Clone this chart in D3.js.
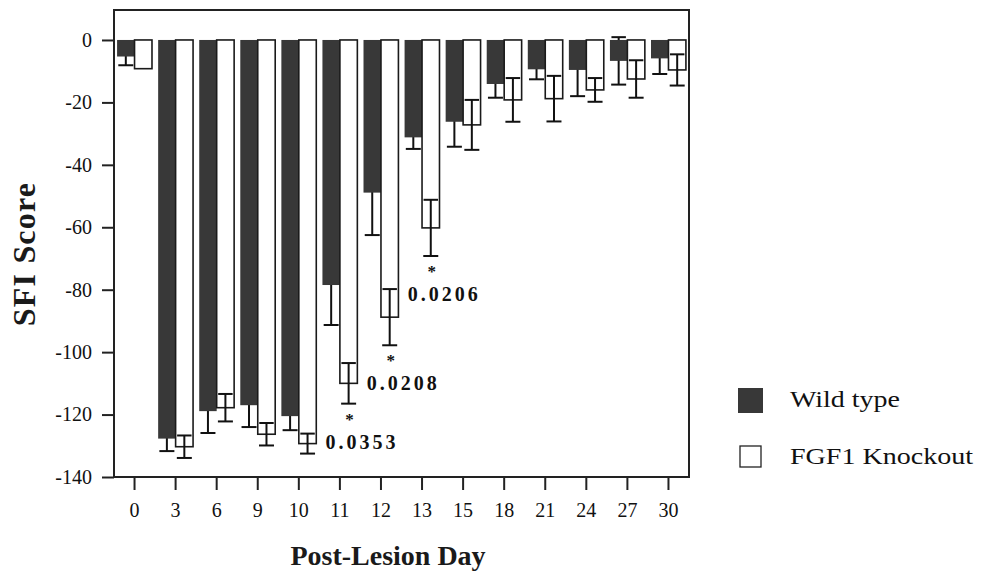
<!DOCTYPE html>
<html>
<head>
<meta charset="utf-8">
<script src="https://cdn.jsdelivr.net/npm/d3@7"></script>
<style>
    body { margin: 0; background: #fff; }
    svg { display: block; font-family: "Liberation Serif", "Times New Roman", serif; }
</style>
</head>
<body>
<svg id="drawing_region"></svg>
<script>
// values
const days = ['0', '3', '6', '9', '10', '11', '12', '13', '15', '18', '21', '24', '27', '30'];
const wildType    = [-5.3, -127.7, -118.9, -117.0, -120.5, -78.5, -48.9, -31.2, -26.2, -14.1, -9.4, -9.6, -6.7, -5.9];
const wildTypeErr = [2.8, 4.0, 7.0, 7.0, 4.5, 12.8, 13.6, 3.7, 8.0, 4.4, 3.2, 8.4, 7.6, 5.0];
const knockout    = [-9.2, -130.3, -117.8, -126.3, -129.3, -110.0, -88.8, -60.2, -27.2, -19.2, -18.8, -16.0, -12.5, -9.6];
const knockoutErr = [0, 3.6, 4.4, 3.6, 3.2, 6.5, 9.0, 9.0, 8.0, 7.0, 7.3, 3.8, 6.0, 5.0];
const yTicks = [0, -20, -40, -60, -80, -100, -120, -140];
const seriesNames = ['Wild type', 'FGF1 Knockout'];
const sigDays = ['11', '12', '13'];
const sigPValues = ['0.0353', '0.0208', '0.0206'];

class GroupedBarChart {

    constructor( config, data ) {
        this.config = {
            parent: config.parent,
            width: config.width || 981,
            height: config.height || 576,
            frame: config.frame || {left:114, right:689, top:10, bottom:477},
            ymin: config.ymin || -140,
            ymax: config.ymax || 9.6,
            colors: config.colors || ['#383838', '#ffffff'],
            xlabel: config.xlabel || '',
            ylabel: config.ylabel || ''
        };
        this.data = data;
        this.init();
    }

    init() {
        let self = this;
        const f = self.config.frame;

        self.svg = d3.select( self.config.parent )
            .attr('width', self.config.width)
            .attr('height', self.config.height);

        self.xscale = d3.scaleBand()
            .domain( days )
            .range( [f.left, f.right] )
            .paddingInner(0.15)
            .paddingOuter(0.075);

        self.x1scale = d3.scaleBand()
            .domain( [0, 1] )
            .range( [0, self.xscale.bandwidth()] );

        self.yscale = d3.scaleLinear()
            .domain( [self.config.ymin, self.config.ymax] )
            .range( [f.bottom, f.top] );

        self.xaxis = d3.axisBottom( self.xscale )
            .tickSize(13)
            .tickPadding(13);

        self.yaxis = d3.axisLeft( self.yscale )
            .tickValues( yTicks )
            .tickFormat( d => String(d) )
            .tickSize(12)
            .tickPadding(10);

        // wild type whiskers sit behind the dark bars, knockout ones in front
        self.err_back = self.svg.append('g');
        self.bar_group = self.svg.append('g');
        self.err_front = self.svg.append('g');

        self.xaxis_group = self.svg.append('g')
            .attr('transform', `translate(0, ${f.bottom})`);
        self.yaxis_group = self.svg.append('g')
            .attr('transform', `translate(${f.left}, 0)`);

        // axis titles
        self.svg.append('text')
            .style('font-size', '28px')
            .style('font-weight', 'bold')
            .attr('text-anchor', 'middle')
            .attr('x', 388)
            .attr('y', 565)
            .attr('fill', '#1a1a1a')
            .text( self.config.xlabel );

        self.svg.append('text')
            .style('font-size', '32px')
            .style('font-weight', 'bold')
            .style('letter-spacing', '1.2px')
            .attr('text-anchor', 'middle')
            .attr('transform', 'translate(35, 254) rotate(-90)')
            .attr('fill', '#1a1a1a')
            .text( self.config.ylabel );
    }

    drawErrors( group, rows ) {
        let self = this;
        const bw = self.x1scale.bandwidth();
        const cx = d => self.xscale(d.day) + self.x1scale(d.series) + bw / 2;

        const eg = group.selectAll('g')
            .data( rows )
            .join('g')
            .attr('stroke', '#111')
            .attr('stroke-width', 2);

        eg.append('line')
            .attr('x1', cx).attr('x2', cx)
            .attr('y1', d => self.yscale(d.value + d.err))
            .attr('y2', d => self.yscale(d.value - d.err));

        eg.append('line')
            .attr('x1', d => cx(d) - bw / 2 + 1.5)
            .attr('x2', d => cx(d) + bw / 2 - 1.5)
            .attr('y1', d => self.yscale(d.value + d.err))
            .attr('y2', d => self.yscale(d.value + d.err));

        eg.append('line')
            .attr('x1', d => cx(d) - 7.5)
            .attr('x2', d => cx(d) + 7.5)
            .attr('y1', d => self.yscale(d.value - d.err))
            .attr('y2', d => self.yscale(d.value - d.err));
    }

    render() {
        let self = this;
        const f = self.config.frame;
        const bw = self.x1scale.bandwidth();
        const cx = d => self.xscale(d.day) + self.x1scale(d.series) + bw / 2;

        self.drawErrors( self.err_back, self.data.filter(d => d.series === 0 && d.err > 0) );

        self.bar_group.selectAll('rect')
            .data( self.data )
            .join('rect')
            .attr('x', d => self.xscale(d.day) + self.x1scale(d.series))
            .attr('y', self.yscale(0))
            .attr('width', bw)
            .attr('height', d => self.yscale(d.value) - self.yscale(0))
            .attr('fill', d => self.config.colors[d.series])
            .attr('stroke', d => d.series === 1 ? '#1a1a1a' : 'none')
            .attr('stroke-width', 1.6);

        self.drawErrors( self.err_front, self.data.filter(d => d.series === 1 && d.err > 0) );

        // significance marks under the knockout bars
        const sig = self.data.filter(d => d.series === 1 && sigDays.includes(d.day));
        const sg = self.svg.append('g').attr('fill', '#111');
        sg.selectAll('.star')
            .data( sig )
            .join('text')
            .attr('class', 'star')
            .style('font-size', '17px')
            .style('font-weight', 'bold')
            .attr('text-anchor', 'middle')
            .attr('x', d => cx(d) + 1)
            .attr('y', d => self.yscale(d.value - d.err) + 21)
            .text('*');
        sg.selectAll('.pval')
            .data( sig )
            .join('text')
            .attr('class', 'pval')
            .style('font-size', '20px')
            .style('font-weight', 'bold')
            .style('letter-spacing', '3px')
            .attr('x', d => cx(d) - 23)
            .attr('y', d => self.yscale(d.value - d.err) + 45)
            .text(d => sigPValues[sigDays.indexOf(d.day)]);

        self.xaxis_group.call( self.xaxis );
        self.yaxis_group.call( self.yaxis );
        [self.xaxis_group, self.yaxis_group].forEach(g => {
            g.select('.domain').remove();
            g.selectAll('.tick line').attr('stroke', '#222').attr('stroke-width', 2);
            g.selectAll('.tick text')
                .attr('fill', '#111')
                .style('font-size', '20px')
                .style('font-family', '"Liberation Serif", serif');
        });

        // plot frame
        self.svg.append('rect')
            .attr('x', f.left)
            .attr('y', f.top)
            .attr('width', f.right - f.left)
            .attr('height', f.bottom - f.top)
            .attr('fill', 'none')
            .attr('stroke', '#222')
            .attr('stroke-width', 2);

        // legend
        const legend = self.svg.append('g');
        const items = [
            {name: seriesNames[0], x: 738, y: 388, s: 25, len: 110, ty: 407},
            {name: seriesNames[1], x: 740, y: 446, s: 21, len: 183, ty: 464}
        ];
        legend.selectAll('rect')
            .data( items )
            .join('rect')
            .attr('x', d => d.x).attr('y', d => d.y)
            .attr('width', d => d.s).attr('height', d => d.s)
            .attr('fill', (d, i) => self.config.colors[i])
            .attr('stroke', (d, i) => i === 1 ? '#222' : 'none')
            .attr('stroke-width', 1.3);
        legend.selectAll('text')
            .data( items )
            .join('text')
            .style('font-size', '24px')
            .attr('x', 790)
            .attr('y', d => d.ty)
            .attr('textLength', d => d.len)
            .attr('lengthAdjust', 'spacingAndGlyphs')
            .attr('fill', '#111')
            .text(d => d.name);
    }
}

const data = [];
days.forEach((day, i) => {
    data.push({day: day, series: 0, value: wildType[i], err: wildTypeErr[i]});
    data.push({day: day, series: 1, value: knockout[i], err: knockoutErr[i]});
});

const chart = new GroupedBarChart({
    parent: '#drawing_region',
    xlabel: 'Post-Lesion Day',
    ylabel: 'SFI Score'
}, data);
chart.render();
</script>
</body>
</html>
